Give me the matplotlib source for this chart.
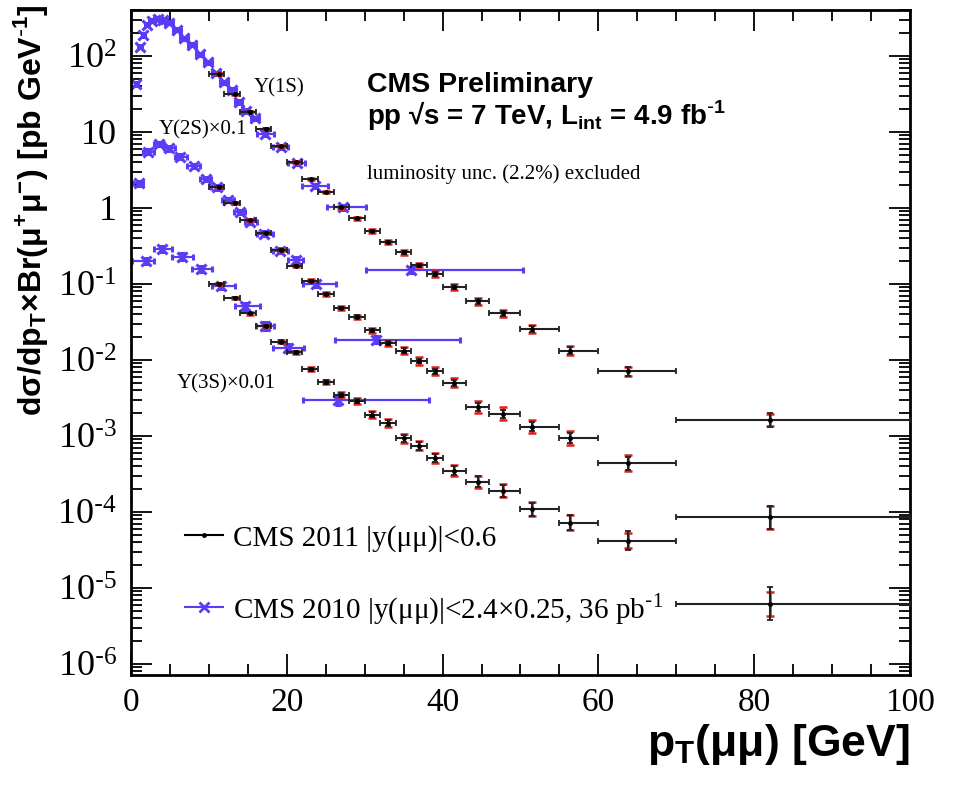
import numpy as np
import matplotlib
matplotlib.use('Agg')
import matplotlib.pyplot as plt
from matplotlib.lines import Line2D
from matplotlib.ticker import LogLocator, MultipleLocator, FuncFormatter, NullFormatter

# CMS 2011 |y|<0.6 : bins (common to the three states) and mean pT of each bin
bin_lo = [10, 12, 14, 16, 18, 20, 22, 24, 26, 28, 30, 32, 34, 36, 38, 40, 43, 46, 50, 55, 60, 70]
bin_hi = [12, 14, 16, 18, 20, 22, 24, 26, 28, 30, 32, 34, 36, 38, 40, 43, 46, 50, 55, 60, 70, 100]
pt_2011 = [11.3, 13.3, 15.3, 17.3, 19.2, 21.2, 23.1, 25.0, 27.0, 29.0, 31.0, 33.0, 35.0, 37.0, 39.0,
           41.5, 44.6, 47.7, 51.5, 56.4, 63.8, 82.0]

ups1s_2011 = [58, 31.3, 18.5, 11.0, 6.5, 4.0, 2.41, 1.61, 1.02, 0.73, 0.50, 0.36, 0.26, 0.177, 0.135,
              0.092, 0.059, 0.041, 0.0257, 0.0133, 0.0071, 0.00162]
ups2s_2011 = [1.9, 1.17, 0.69, 0.47, 0.28, 0.174, 0.11, 0.074, 0.048, 0.037, 0.0245, 0.0167, 0.0133,
              0.0097, 0.0071, 0.0050, 0.0024, 0.00195, 0.00133, 0.00094, 0.00044, 8.5e-5]
ups3s_2011 = [0.100, 0.066, 0.041, 0.028, 0.0174, 0.0126, 0.0076, 0.0051, 0.0035, 0.0029, 0.0019,
              0.00147, 0.00093, 0.00074, 0.00051, 0.00035, 0.00025, 0.00019, 0.000109, 7.2e-5,
              4.2e-5, 6.2e-6]

# uncertainties in decades (stat = black bars, syst = red bars)
stat_1s = [0.005, 0.005, 0.005, 0.005, 0.005, 0.005, 0.006, 0.007, 0.008, 0.01, 0.012, 0.014, 0.016,
           0.02, 0.022, 0.025, 0.03, 0.035, 0.04, 0.05, 0.06, 0.09]
syst_1s = [0.01, 0.01, 0.01, 0.01, 0.012, 0.012, 0.014, 0.016, 0.018, 0.02, 0.022, 0.025, 0.028,
           0.03, 0.035, 0.04, 0.045, 0.05, 0.05, 0.055, 0.06, 0.075]
stat_2s = [0.006, 0.006, 0.007, 0.008, 0.009, 0.01, 0.012, 0.014, 0.016, 0.018, 0.02, 0.024, 0.028,
           0.032, 0.036, 0.04, 0.05, 0.055, 0.06, 0.07, 0.085, 0.15]
syst_2s = [0.012, 0.012, 0.013, 0.014, 0.016, 0.018, 0.02, 0.022, 0.025, 0.028, 0.03, 0.04, 0.045,
           0.05, 0.055, 0.06, 0.08, 0.085, 0.09, 0.095, 0.1, 0.15]
stat_3s = [0.01, 0.01, 0.012, 0.014, 0.016, 0.018, 0.02, 0.024, 0.028, 0.03, 0.035, 0.04, 0.045,
           0.05, 0.055, 0.06, 0.07, 0.08, 0.085, 0.1, 0.12, 0.22]
syst_3s = [0.015, 0.015, 0.016, 0.018, 0.02, 0.022, 0.025, 0.03, 0.035, 0.04, 0.045, 0.05, 0.055,
           0.06, 0.065, 0.07, 0.076, 0.085, 0.09, 0.1, 0.1, 0.16]

# CMS 2010 |y|<2.4 (x0.25)
pt_1s_2010 = [0.7, 1.15, 1.6, 2.1, 2.7, 3.5, 4.1, 4.9, 5.9, 6.8, 7.8, 8.8, 9.85, 10.9, 11.9, 12.95,
              13.8, 14.7, 15.9, 17.2, 19.2, 21.3, 23.6, 27.2, 36.0]
lo_1s_2010 = [0.45, 0.9, 1.35, 1.85, 2.3, 3.0, 3.6, 4.4, 5.4, 6.3, 7.3, 8.3, 9.35, 10.4, 11.4, 12.45,
              13.3, 14.2, 15.4, 16.2, 18.2, 20.2, 22.0, 25.2, 30.2]
hi_1s_2010 = [0.95, 1.4, 1.85, 2.35, 3.1, 4.0, 4.6, 5.4, 6.4, 7.3, 8.3, 9.3, 10.35, 11.4, 12.4, 13.45,
              14.3, 15.2, 16.4, 18.3, 20.2, 22.3, 25.3, 30.2, 50.3]
ups1s_2010 = [43, 133, 189, 256, 291, 307, 300, 274, 220, 171, 140, 105, 83, 59, 45, 36, 24.8, 18.9,
              15.1, 9.4, 6.3, 3.87, 1.96, 1.02, 0.153]
err_1s_2010 = [0.03, 0.02, 0.02, 0.02, 0.02, 0.02, 0.02, 0.02, 0.02, 0.02, 0.02, 0.02, 0.02, 0.02,
               0.02, 0.02, 0.02, 0.02, 0.02, 0.025, 0.025, 0.025, 0.03, 0.03, 0.04]

pt_2s_2010 = [1.0, 2.2, 3.6, 4.9, 6.35, 8.05, 9.6, 11.0, 12.4, 14.0, 15.3, 17.1, 19.1, 21.2, 23.8, 31.4]
lo_2s_2010 = [0.3, 1.5, 2.9, 4.2, 5.6, 7.2, 8.9, 10.3, 11.7, 13.2, 14.6, 16.2, 18.2, 20.2, 22.1, 26.2]
hi_2s_2010 = [1.5, 2.9, 4.2, 5.6, 7.2, 8.9, 10.3, 11.7, 13.2, 14.6, 16.2, 18.2, 20.2, 22.1, 26.3, 42.2]
ups2s_2010 = [2.11, 5.5, 6.95, 6.1, 4.73, 3.57, 2.41, 1.87, 1.27, 0.88, 0.66, 0.46, 0.275, 0.207,
              0.10, 0.0186]
err_2s_2010 = [0.03, 0.03, 0.03, 0.03, 0.03, 0.03, 0.03, 0.03, 0.03, 0.03, 0.03, 0.035, 0.035, 0.04,
               0.04, 0.05]

pt_3s_2010 = [1.9, 4.0, 6.6, 9.0, 11.6, 14.6, 17.2, 20.1, 26.6]
lo_3s_2010 = [0.1, 2.9, 5.2, 7.8, 10.4, 13.3, 16.1, 18.2, 22.1]
hi_3s_2010 = [2.9, 5.2, 8.0, 10.4, 13.4, 16.5, 18.3, 22.2, 38.3]
ups3s_2010 = [0.203, 0.29, 0.23, 0.156, 0.094, 0.051, 0.028, 0.0145, 0.00295]
err_3s_2010 = [0.04, 0.04, 0.04, 0.04, 0.04, 0.045, 0.05, 0.05, 0.06]

y_decades = [-6, -5, -4, -3, -2, -1, 0, 1, 2]

blue = '#5a3cf5'
red = '#e0201a'
sans = ['Liberation Sans', 'DejaVu Sans']
plt.rcParams['font.family'] = ['Liberation Serif', 'DejaVu Sans']


def log_err(y, d):
    y = np.asarray(y, dtype=float)
    d = np.asarray(d, dtype=float)
    return [y * (1 - 10 ** -d), y * (10 ** d - 1)]


fig = plt.figure(figsize=(9.59, 7.87), dpi=100)
ax = fig.add_axes([0.1366, 0.1423, 0.8123, 0.845])

# 2010 points (blue crosses)
for x, lo, hi, y, e in [(pt_1s_2010, lo_1s_2010, hi_1s_2010, ups1s_2010, err_1s_2010),
                        (pt_2s_2010, lo_2s_2010, hi_2s_2010, ups2s_2010, err_2s_2010),
                        (pt_3s_2010, lo_3s_2010, hi_3s_2010, ups3s_2010, err_3s_2010)]:
    x = np.array(x)
    ax.errorbar(x, y, xerr=[x - np.array(lo), np.array(hi) - x], yerr=log_err(y, e),
                fmt='x', ms=7, mew=2.2, color=blue, ecolor=blue, elinewidth=1.6,
                capsize=2, capthick=1.4, zorder=2)

# 2011 points (black, red systematic bars)
x11 = np.array(pt_2011)
xerr11 = [x11 - np.array(bin_lo), np.array(bin_hi) - x11]
for y, st, sy in [(ups1s_2011, stat_1s, syst_1s), (ups2s_2011, stat_2s, syst_2s),
                  (ups3s_2011, stat_3s, syst_3s)]:
    ax.errorbar(x11, y, yerr=log_err(y, sy), fmt='none', ecolor=red, elinewidth=1.8,
                capsize=3, capthick=1.8, zorder=3)
    ax.errorbar(x11, y, xerr=xerr11, yerr=log_err(y, st), fmt='o', ms=2.5, color='k',
                ecolor='#222222', elinewidth=1.5, capsize=2.5, capthick=1.3, zorder=4)

ax.set_xlim(0, 100)
ax.set_yscale('log')
ax.set_ylim(7.16e-7, 4.03e2)

ax.xaxis.set_major_locator(MultipleLocator(20))
ax.xaxis.set_minor_locator(MultipleLocator(5))
ax.set_yticks([10.0 ** k for k in y_decades])
ax.yaxis.set_minor_locator(LogLocator(base=10, subs=np.arange(2, 10), numticks=20))
ax.yaxis.set_minor_formatter(NullFormatter())


def ylab(v, pos):
    e = int(round(np.log10(v)))
    if e == 0:
        return '1'
    if e == 1:
        return '10'
    if e < 0:
        return r'$\mathregular{10^{\text{-}%d}}$' % (-e)
    return r'$\mathregular{10^{%d}}$' % e


ax.yaxis.set_major_formatter(FuncFormatter(ylab))
ax.tick_params(which='both', direction='in', top=True, right=True, width=1.3)
ax.tick_params(which='major', length=15, pad=9)
ax.tick_params(which='minor', length=8)
ax.tick_params(axis='x', labelsize=24)
ax.tick_params(axis='y', labelsize=26, pad=10)
for s in ax.spines.values():
    s.set_linewidth(2)

ax.set_xlabel(r'p$_\mathregular{T}$(μμ) [GeV]', fontsize=32, fontweight='bold', family=sans,
              loc='right')
ax.xaxis.set_label_coords(1.0, -0.07)
ax.set_ylabel(r'dσ/dp$_\mathregular{T}$×Br(μ$^\mathregular{+}$μ$^\mathregular{-}$) [pb GeV$^\mathregular{\text{-}1}$]',
              fontsize=23, fontweight='bold', family=sans, loc='top')
ax.yaxis.set_label_coords(-0.104, 1.008)

ax.text(0.157, 0.8835, 'Υ(1S)', transform=ax.transAxes, fontsize=15, va='center')
ax.text(0.035, 0.8195, 'Υ(2S)×0.1', transform=ax.transAxes, fontsize=15, va='center')
ax.text(0.0587, 0.438, 'Υ(3S)×0.01', transform=ax.transAxes, fontsize=15, va='center')
ax.text(0.303, 0.876, 'CMS Preliminary', transform=ax.transAxes, fontsize=20.5,
        fontweight='bold', family=sans)
ax.text(0.303, 0.827, r'pp √s = 7 TeV, L$_\mathregular{int}$ = 4.9 fb$^\mathregular{\text{-}1}$',
        transform=ax.transAxes, fontsize=20, fontweight='bold', family=sans)
ax.text(0.303, 0.746, 'luminosity unc. (2.2%) excluded', transform=ax.transAxes, fontsize=15)

handles = [Line2D([], [], color='k', marker='o', ms=2.5, lw=1.5),
           Line2D([], [], color=blue, marker='x', ms=7, mew=2, lw=1.5)]
labels = ['CMS 2011 |y(μμ)|<0.6',
          r'CMS 2010 |y(μμ)|<2.4×0.25, 36 pb$^\mathregular{\text{-}1}$']
ax.legend(handles, labels, loc='upper left', bbox_to_anchor=(0.069, 0.226), frameon=False,
          fontsize=21, handlelength=1.3, handletextpad=0.35, labelspacing=1.35, borderpad=0,
          borderaxespad=0)

fig.savefig('out.png', dpi=100)
